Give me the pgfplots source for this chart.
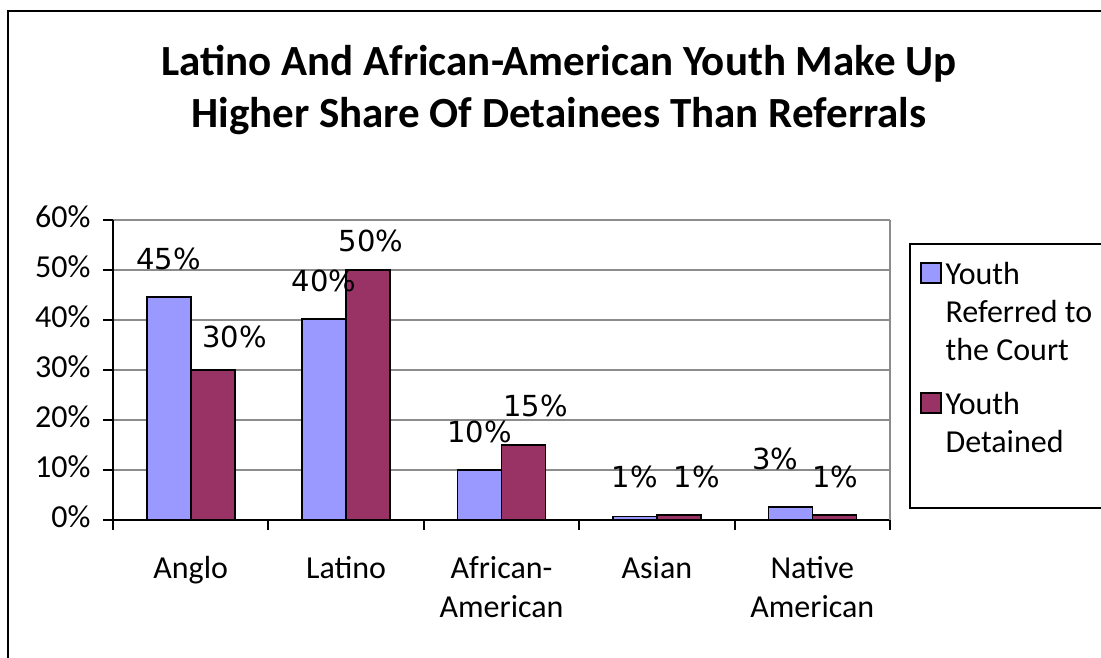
\documentclass[border=0pt]{standalone}
\usepackage{fontspec}
\setmainfont{Carlito}
\newfontfamily\dejavu{DejaVu Sans}
\usepackage{pgfplots}
\pgfplotsset{compat=1.18}
\definecolor{serA}{RGB}{153,153,255}
\definecolor{serB}{RGB}{153,51,102}
\definecolor{gridc}{RGB}{140,140,140}
% data label: value, horizontal offset, offset of baseline above bar top (bp)
\newcommand{\dl}[3]{\raisebox{#3bp}[0pt][0pt]{\makebox[0pt]{\hspace*{#2bp}\hspace*{#2bp}#1\%}}}
\begin{document}
\begin{tikzpicture}[x=1bp,y=1bp]
\useasboundingbox (0,0) rectangle (1101,658);
\draw[line width=2.5bp] (8,-20) rectangle (1130,647);
\node[font=\fontsize{43bp}{52bp}\selectfont\bfseries, anchor=base, inner sep=0pt] at (559,582) {Latino And African-American Youth Make Up};
\node[font=\fontsize{43bp}{52bp}\selectfont\bfseries, anchor=base, inner sep=0pt] at (559,530) {Higher Share Of Detainees Than Referrals};
\begin{axis}[
  at={(113bp,138bp)}, anchor=south west,
  scale only axis, width=777bp, height=300bp,
  xmin=-0.5, xmax=4.5, ymin=0, ymax=0.6,
  axis lines*=left,
  axis line style={black, line width=2bp},
  ybar=0pt, bar width=44bp,
  xtick={0,1,2,3,4},
  xticklabels={Anglo, Latino, {African-\\American}, Asian, {Native\\American}},
  minor xtick={-0.5,0.5,1.5,2.5,3.5,4.5},
  ytick={0,0.1,0.2,0.3,0.4,0.5,0.6},
  yticklabels={0\%,10\%,20\%,30\%,40\%,50\%,60\%},
  tick align=outside,
  major tick length=10bp, minor tick length=10bp,
  major x tick style={draw=none},
  minor x tick style={black, line width=2bp},
  major y tick style={black, line width=2bp},
  ymajorgrids, major grid style={gridc, line width=1.2bp},
  extra x ticks={4.5}, extra x tick labels={}, extra x tick style={grid=major},
  xticklabel style={font=\fontsize{32bp}{39bp}\selectfont, align=center, yshift=-18bp},
  yticklabel style={font=\fontsize{32bp}{39bp}\selectfont, xshift=-9bp},
  typeset ticklabels with strut,
  point meta=explicit symbolic,
  nodes near coords,
  every node near coord/.append style={font=\dejavu\fontsize{29bp}{35bp}\selectfont, inner sep=0pt, anchor=base, black},
  legend cell align=left,
  legend style={at={(1.02445,0.9233)}, anchor=north west, draw=black, line width=2bp,
    font=\fontsize{32bp}{38bp}\selectfont, inner xsep=10bp, inner ysep=13.4bp, row sep=0pt, column sep=4bp,
    nodes={inner sep=0pt, anchor=base west, text depth=11.4bp}},
]
\addplot[fill=serA, draw=black, line width=1.6bp,
  legend image code/.code={\draw[fill=serA, draw=black, line width=1.6bp] (0bp,1bp) rectangle (20bp,21bp);}]
  coordinates {(0,0.446)[\dl{45}{0}{27}] (1,0.402)[\dl{40}{0}{27}] (2,0.100)[\dl{10}{0}{27}] (3,0.007)[\dl{1}{0}{29}] (4,0.026)[\dl{3}{-15}{37}]};
\addlegendentry{\strut Youth}
\addlegendimage{empty legend}
\addlegendentry{\strut Referred to\hspace*{60bp}}
\addlegendimage{empty legend}
\addlegendentry[text depth=27.4bp]{\strut the Court}
\addplot[fill=serB, draw=black, line width=1.6bp,
  legend image code/.code={\draw[fill=serB, draw=black, line width=1.6bp] (0bp,1bp) rectangle (20bp,21bp);}]
  coordinates {(0,0.30)[\dl{30}{22}{22}] (1,0.50)[\dl{50}{3}{18}] (2,0.15)[\dl{15}{12}{28}] (3,0.01)[\dl{1}{18}{27}] (4,0.01)[\dl{1}{1}{27}]};
\addlegendentry{\strut Youth}
\addlegendimage{empty legend}
\addlegendentry[text depth=42.6bp]{\strut Detained}
\end{axis}
\end{tikzpicture}
\end{document}
